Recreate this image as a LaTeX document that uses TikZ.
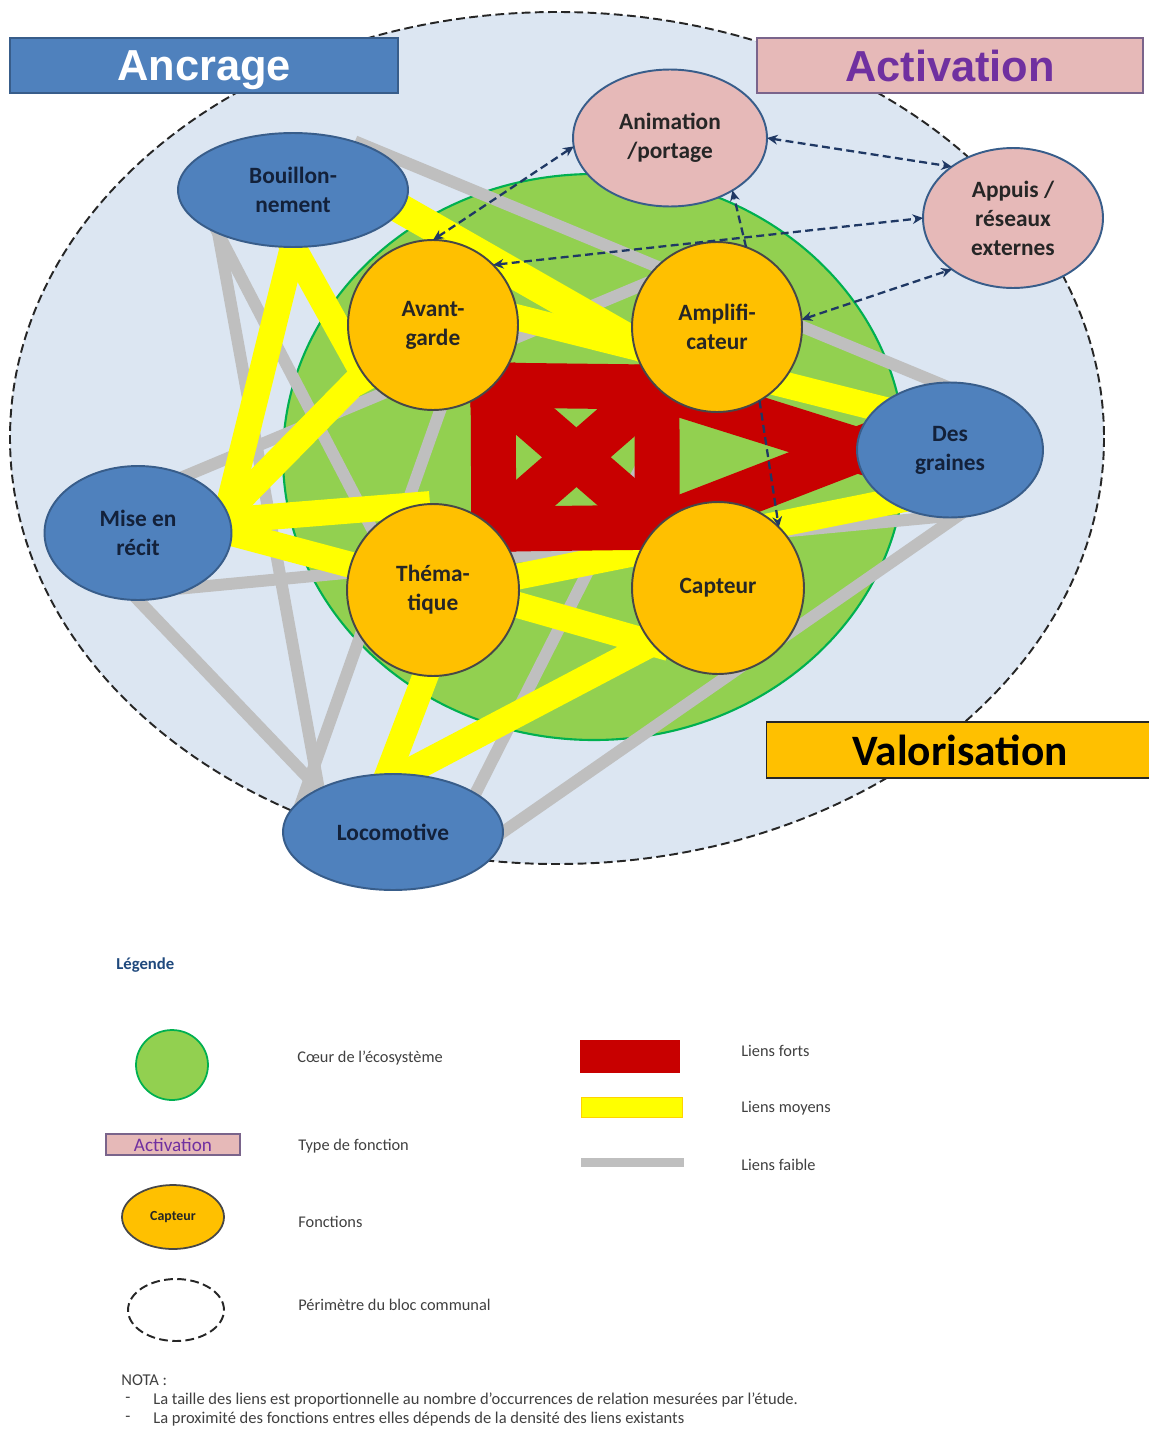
\documentclass[tikz,border=0pt]{standalone}
\usepackage{fontspec}
\setmainfont{Carlito}
\newfontfamily\headfont{Liberation Sans}
\usetikzlibrary{arrows.meta,shapes.geometric}

\definecolor{perim}{HTML}{DCE6F2}
\definecolor{heart}{HTML}{92D050}
\definecolor{heartline}{HTML}{00B050}
\definecolor{anchorblue}{HTML}{4F81BD}
\definecolor{anchorline}{HTML}{385D8A}
\definecolor{actpink}{HTML}{E6B9B8}
\definecolor{actpurple}{HTML}{7030A0}
\definecolor{valor}{HTML}{FFC000}
\definecolor{linkred}{HTML}{C80000}
\definecolor{linkyellow}{HTML}{FFFF00}
\definecolor{linkgrey}{HTML}{BFBFBF}
\definecolor{navy}{HTML}{1F3864}
\definecolor{ink}{HTML}{262626}
\definecolor{darkink}{HTML}{13213A}
\definecolor{legendtext}{HTML}{404040}
\definecolor{legendtitle}{HTML}{1F497D}

\pgfdeclarelayer{back}
\pgfdeclarelayer{links}
\pgfsetlayers{back,links,main}

\tikzset{
  >={Stealth[length=6pt,width=5.5pt]},
  nodefont/.style={font=\fontsize{13.3}{16.5}\selectfont\bfseries, align=center},
  anchorfn/.style={ellipse, draw=anchorline, line width=1.1pt, fill=anchorblue,
    inner sep=0pt, outer sep=0pt, nodefont, text=darkink},
  activfn/.style={ellipse, draw=anchorline, line width=1.1pt, fill=actpink,
    inner sep=0pt, outer sep=0pt, nodefont, text=ink},
  valfn/.style={circle, draw=ink!85, line width=1.1pt, fill=valor,
    inner sep=0pt, outer sep=0pt, nodefont, text=ink},
  weak/.style={draw=linkgrey, line width=0.24cm, shorten <=-8pt, shorten >=-8pt},
  medium/.style={draw=linkyellow, line width=0.52cm, shorten <=-10pt, shorten >=-10pt},
  strong/.style={draw=linkred, line width=0.9cm, line cap=rect},
  dasharrow/.style={draw=navy, line width=1.3pt, dash pattern=on 4.5pt off 2.5pt},
  perimeter/.style={draw=ink, line width=1.1pt, dash pattern=on 5pt off 2.5pt},
  typebox/.style={rectangle, inner sep=0pt, outer sep=0pt, line width=1pt, text depth=0pt,
    font=\headfont\bfseries\fontsize{24.7}{28}\selectfont},
  legendlabel/.style={anchor=west, inner sep=0pt, font=\fontsize{9.3}{11}\selectfont, text=legendtext},
  notetext/.style={anchor=west, inner sep=0pt, font=\fontsize{9.4}{11}\selectfont, text=legendtext},
}

\begin{document}
\begin{tikzpicture}[x=0.02cm,y=-0.02cm]
\path[use as bounding box] (0,0) rectangle (1149,1430);

% ---- functions of the ecosystem ----
\node[anchorfn, minimum width=4.6cm, minimum height=2.28cm] (bouil) at (293,190) {Bouillon-\\nement};
\node[anchorfn, minimum width=3.74cm, minimum height=2.68cm] (mise) at (138,533) {Mise en\\récit};
\node[anchorfn, minimum width=4.4cm, minimum height=2.32cm] (loco) at (393,832) {Locomotive};
\node[anchorfn, minimum width=3.72cm, minimum height=2.7cm] (dg) at (950,450) {Des\\graines};
\node[activfn, minimum width=3.88cm, minimum height=2.74cm] (anim) at (670,138) {Animation\\/portage};
\node[activfn, minimum width=3.6cm, minimum height=2.8cm] (app) at (1013,218) {Appuis /\\réseaux\\externes};
\node[valfn, minimum size=3.4cm] (ag) at (433,325) {Avant-\\garde};
\node[valfn, minimum size=3.4cm] (amp) at (717,327) {Amplifi-\\cateur};
\node[valfn, minimum size=3.44cm] (th) at (433,590) {Théma-\\tique};
\node[valfn, minimum size=3.44cm] (cap) at (718,588) {Capteur};

% ---- page, perimeter of the communal block and heart of the ecosystem ----
\begin{pgfonlayer}{back}
  \fill[white] (0,0) rectangle (1149,1430);
  \draw[perimeter, fill=perim] (557,438) ellipse [x radius=547, y radius=426];
  \draw[fill=heart, draw=heartline, line width=1.2pt] (594,457) ellipse [x radius=311, y radius=283];
\end{pgfonlayer}

% ---- links ----
\begin{pgfonlayer}{links}
  % weak links
  \draw[weak] (bouil.30) -- (dg.100);
  \draw[weak] (bouil.-150) -- (loco.150);
  \draw[weak] (bouil.-150) -- (th.135);
  \draw[weak] (mise.-90) -- (loco.150);
  \draw[weak] (mise.-45) -- (dg.-100);
  \draw[weak] (mise.50) -- (amp.150);
  \draw[weak] (ag.-85) -- (loco.160);
  \draw[weak] (dg.-85) -- (loco.0);
  \draw[weak] (loco.25) -- (amp.-120);
  % medium links
  \draw[medium, line width=0.6cm] (bouil.-10) -- (amp.190);
  \draw[medium] (bouil.-90) -- (mise.13);
  \draw[medium] (bouil.-90) -- (ag.215);
  \draw[medium] (ag.215) -- (mise.13);
  \draw[medium, shorten >=0pt] (mise.8) -- (th.92);
  \draw[medium] (mise.east) -- (th.163);
  \draw[medium] (ag.5) -- (dg.150);
  \draw[medium] (th.9) -- (dg.221);
  \draw[medium] (th.-10) -- (cap.220);
  \draw[medium] (th.-95) -- (loco.95);
  \draw[medium] (loco.80) -- (cap.220);
  % strong links
  \draw[strong] (ag.-45) -- (amp.-135);
  \draw[strong] (th.45) -- (cap.135);
  \draw[strong] (ag.-45) -- (th.45);
  \draw[strong] (amp.-135) -- (cap.135);
  \draw[strong] (ag.-45) -- (cap.135);
  \draw[strong] (amp.-135) -- (th.45);
  \draw[strong] (amp.-135) -- (dg.west);
  \draw[strong] (cap.135) -- (dg.west);
\end{pgfonlayer}

% ---- activation flows ----
\draw[dasharrow, <->] (ag.90) -- (anim.185);
\draw[dasharrow, <->] (ag.45) -- (app.west);
\draw[dasharrow, <->] (anim.east) -- (app.140);
\draw[dasharrow, <->] (amp.5) -- (app.-140);
\draw[dasharrow, ->] (amp.70) -- (anim.-40);
\draw[dasharrow, ->] (amp.-60) -- (cap.45);

% ---- types of function ----
\node[typebox, draw=anchorline, fill=anchorblue, text=white,
  minimum width=7.76cm, minimum height=1.1cm] (ancrage) at (204,65.5) {Ancrage};
\node[typebox, draw=actpurple!35!gray, fill=actpink, text=actpurple,
  minimum width=7.72cm, minimum height=1.1cm] (activation) at (950,65.5) {Activation};
\node[typebox, draw=ink, fill=valor, text=black,
  font=\bfseries\fontsize{24.7}{28}\selectfont,
  minimum width=7.74cm, minimum height=1.12cm] (valorisation) at (960,750) {Valorisation};

% ---- legend ----
\node[anchor=west, inner sep=0pt, font=\fontsize{9.5}{11}\selectfont\bfseries, text=legendtitle] (legtitle) at (116,965) {Légende};

\node[ellipse, draw=heartline, fill=heart, line width=1pt, inner sep=0pt,
  minimum width=1.44cm, minimum height=1.4cm] (lheart) at (172,1065) {};
\node[legendlabel] (lhearttext) at (297,1058) {Cœur de l'écosystème};

\node[rectangle, draw=actpurple!35!gray, fill=actpink, line width=0.8pt, inner sep=0pt,
  minimum width=2.68cm, minimum height=0.42cm, text=actpurple,
  font=\fontsize{10.9}{12}\selectfont] (lact) at (173,1144.5) {Activation};
\node[legendlabel] (lacttext) at (298,1146) {Type de fonction};

\node[ellipse, draw=ink!85, fill=valor, line width=1pt, inner sep=0pt,
  minimum width=2.04cm, minimum height=1.28cm, text=ink,
  font=\fontsize{7.9}{9}\selectfont\bfseries] (lcap) at (173,1217) {Capteur};
\node[legendlabel] (lcaptext) at (298,1222) {Fonctions};

\node[ellipse, perimeter, inner sep=0pt,
  minimum width=1.92cm, minimum height=1.24cm] (lperim) at (176,1310) {};
\node[legendlabel] (lperimtext) at (298,1305) {Périmètre du bloc communal};

\fill[linkred] (580,1040) rectangle (680,1073);
\node[legendlabel] (lstrong) at (741,1051) {Liens forts};
\filldraw[fill=linkyellow, draw=valor!70!linkyellow, line width=0.5pt] (581,1097) rectangle (682,1117);
\node[legendlabel] (lmedium) at (741,1108) {Liens moyens};
\fill[linkgrey] (581,1158) rectangle (684,1167);
\node[legendlabel] (lweak) at (741,1165) {Liens faible};

% ---- note ----
\node[notetext] (nota) at (121,1380) {NOTA :};
\node[notetext] (dashone) at (125,1400) {-};
\node[notetext] (noteone) at (153,1400) {La taille des liens est proportionnelle au nombre d’occurrences de relation mesurées par l’étude.};
\node[notetext] (dashtwo) at (125,1419) {-};
\node[notetext] (notetwo) at (153,1419) {La proximité des fonctions entres elles dépends de la densité des liens existants};
\end{tikzpicture}
\end{document}
